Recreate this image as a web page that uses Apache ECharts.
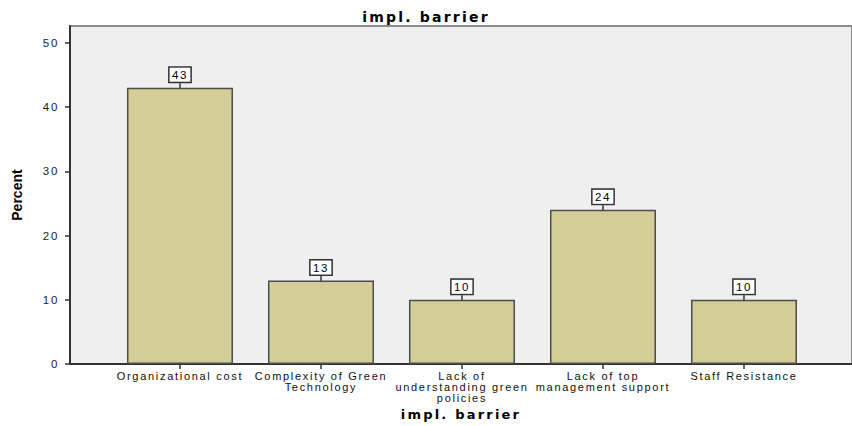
<!DOCTYPE html>
<html>
<head>
<meta charset="utf-8">
<script src="https://cdn.jsdelivr.net/npm/echarts@6/dist/echarts.min.js"></script>
<style>
  html, body { margin: 0; padding: 0; background: #ffffff; }
  #chart { width: 852px; height: 426px; }
  /* SPSS-style loosely tracked lettering */
  #chart svg text { letter-spacing: 1.7px; }
  #chart svg text[style*="bold"] { letter-spacing: 2.2px; }
  #chart svg text[style*="Narrow"] { letter-spacing: 0; }
</style>
</head>
<body>
<div id="chart"></div>
<script>
// Implementation barriers, share of respondents (percent)
const categories = [
  'Organizational cost',
  'Complexity of Green\nTechnology',
  'Lack of\nunderstanding green\npolicies',
  'Lack of top\nmanagement support',
  'Staff Resistance'
];
const percents = [43, 13, 10, 24, 10];
const yTicks = [0, 10, 20, 30, 40, 50];

const positions = categories.map((_, i) => i);
const barData = percents.map((v, i) => [positions[i], v]);

const tickFont = 'Liberation Sans, Arial, sans-serif';
const headFont = 'DejaVu Sans, Arial, sans-serif';
const chart = echarts.init(document.getElementById('chart'), null, { renderer: 'svg' });

chart.setOption({
  animation: false,
  backgroundColor: '#ffffff',
  title: {
    text: 'impl. barrier',
    left: 'center',
    top: 5,
    textStyle: { fontFamily: headFont, fontWeight: 'bold', fontSize: 14, color: '#000' }
  },
  grid: {
    left: 70, right: -2, top: 26, bottom: 61,
    show: true,
    backgroundColor: '#efefef',
    borderColor: '#8c8c8c',
    borderWidth: 2
  },
  xAxis: {
    type: 'value',
    min: -0.78,
    max: 4.766,
    name: 'impl. barrier',
    nameLocation: 'middle',
    nameGap: 40,
    nameTextStyle: { fontFamily: headFont, fontWeight: 'bold', fontSize: 13, color: '#000' },
    axisLine: { show: true, onZero: false, lineStyle: { color: '#333', width: 2 } },
    axisTick: { show: true, customValues: positions, length: 5, lineStyle: { color: '#333', width: 1.5 } },
    axisLabel: {
      customValues: positions,
      formatter: v => categories[Math.round(v)] || '',
      fontFamily: tickFont, fontSize: 11, lineHeight: 11, color: '#111', margin: 6,
      verticalAlign: 'top'
    },
    splitLine: { show: false }
  },
  yAxis: {
    type: 'value',
    min: 0,
    max: 52.6,
    interval: 10,
    name: 'Percent',
    nameLocation: 'middle',
    nameGap: 46,
    nameTextStyle: { fontFamily: 'Liberation Sans Narrow, Liberation Sans, Arial, sans-serif', fontWeight: 'bold', fontSize: 14, color: '#000' },
    axisLine: { show: true, onZero: false, lineStyle: { color: '#333', width: 2 } },
    axisTick: { show: true, length: 5, lineStyle: { color: '#333', width: 1.5 } },
    axisLabel: {
      fontFamily: tickFont, fontSize: 11.5, color: '#222', margin: 11,
      showMaxLabel: false,
      formatter: v => (yTicks.includes(v) ? String(v) : '')
    },
    splitLine: { show: false }
  },
  series: [{
    type: 'bar',
    data: barData,
    barWidth: 106,
    itemStyle: { color: '#d3ce98', borderColor: '#4d4d4d', borderWidth: 1.5 },
    label: {
      show: true,
      position: 'top',
      distance: 0,
      formatter: p => String(p.value[1]),
      fontFamily: tickFont, fontSize: 11.5, color: '#000',
      backgroundColor: '#ffffff',
      borderColor: '#333',
      borderWidth: 1.5,
      padding: [1, 4, 0, 4],
      lineHeight: 13
    },
    labelLayout: { dy: -6 },
    labelLine: { show: true, lineStyle: { color: '#333', width: 1.5 } }
  }]
});
</script>
</body>
</html>
